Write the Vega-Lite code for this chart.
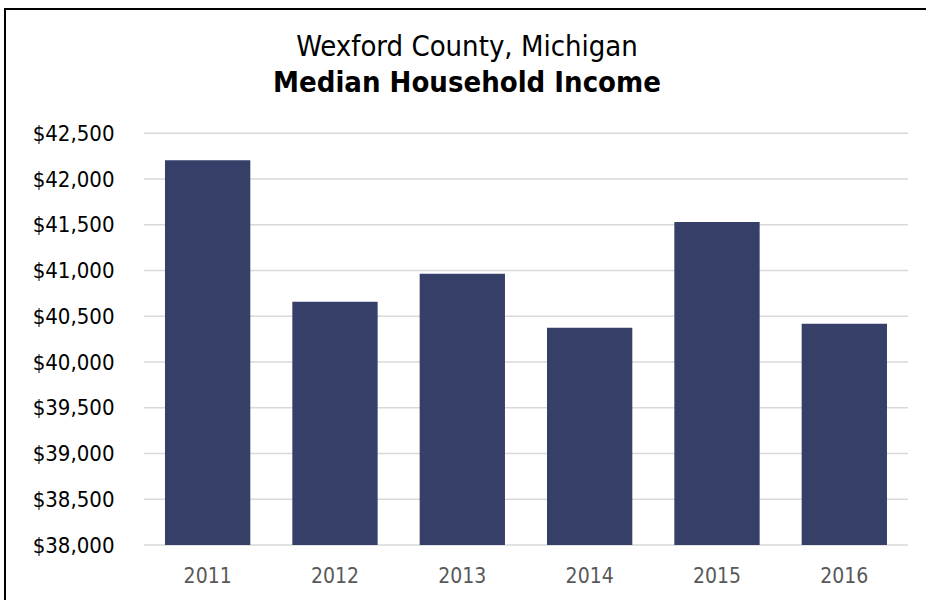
{
  "$schema": "https://vega.github.io/schema/vega-lite/v6.json",
  "autosize": {"type": "none"},
  "padding": {"left": 5, "top": 9, "right": -3, "bottom": -3},
  "width": 924,
  "height": 594,
  "background": "#ffffff",
  "config": {
    "view": {"stroke": "#000000", "strokeWidth": 2},
    "font": "DejaVu Sans Condensed"
  },
  "title": {
    "text": "Wexford County, Michigan",
    "subtitle": "Median Household Income",
    "anchor": "middle",
    "frame": "group",
    "orient": "top",
    "offset": -89,
    "font": "DejaVu Sans Condensed",
    "fontSize": 29,
    "fontWeight": "normal",
    "color": "#000000",
    "subtitleFont": "DejaVu Sans Condensed",
    "subtitleFontSize": 29,
    "subtitleFontWeight": "bold",
    "subtitleColor": "#000000",
    "subtitlePadding": 7
  },
  "datasets": {
    "income": [
      {"year": "2011", "income": 42206},
      {"year": "2012", "income": 40659},
      {"year": "2013", "income": 40964},
      {"year": "2014", "income": 40374},
      {"year": "2015", "income": 41530},
      {"year": "2016", "income": 40417}
    ],
    "grid": [
      {"v": 38000}, {"v": 38500}, {"v": 39000}, {"v": 39500}, {"v": 40000},
      {"v": 40500}, {"v": 41000}, {"v": 41500}, {"v": 42000}, {"v": 42500}
    ]
  },
  "layer": [
    {
      "data": {"name": "grid"},
      "mark": {"type": "rule", "color": "#d9d9d9", "strokeWidth": 1.5},
      "encoding": {
        "y": {
          "field": "v",
          "type": "quantitative",
          "scale": {"domain": [37366.1, 43858.6], "nice": false, "zero": false}
        },
        "x": {
          "datum": 0,
          "type": "quantitative",
          "scale": {"domain": [-0.18194, 1.02749], "nice": false, "zero": false},
          "axis": null
        },
        "x2": {"datum": 1}
      }
    },
    {
      "data": {"name": "income"},
      "mark": {"type": "bar", "color": "#353f68"},
      "encoding": {
        "x": {
          "field": "year",
          "type": "ordinal",
          "scale": {"paddingInner": 0.33, "paddingOuter": 0.7932, "align": 0.792},
          "axis": {
            "title": null,
            "orient": "bottom",
            "offset": -58,
            "domain": false,
            "ticks": false,
            "labelPadding": 20,
            "labelFont": "DejaVu Sans Condensed",
            "labelFontSize": 21,
            "labelColor": "#595959",
            "labelAngle": 0
          }
        },
        "y": {
          "field": "income",
          "type": "quantitative",
          "scale": {"domain": [37366.1, 43858.6], "nice": false, "zero": false},
          "axis": {
            "title": null,
            "orient": "left",
            "offset": -139,
            "values": [38000, 38500, 39000, 39500, 40000, 40500, 41000, 41500, 42000, 42500],
            "format": "$,.0f",
            "domain": false,
            "ticks": false,
            "grid": false,
            "labelPadding": 30,
            "labelFont": "DejaVu Sans Condensed",
            "labelFontSize": 22,
            "labelColor": "#000000"
          }
        },
        "y2": {"datum": 38000}
      }
    }
  ],
  "resolve": {"scale": {"x": "independent"}, "axis": {"x": "independent"}}
}
